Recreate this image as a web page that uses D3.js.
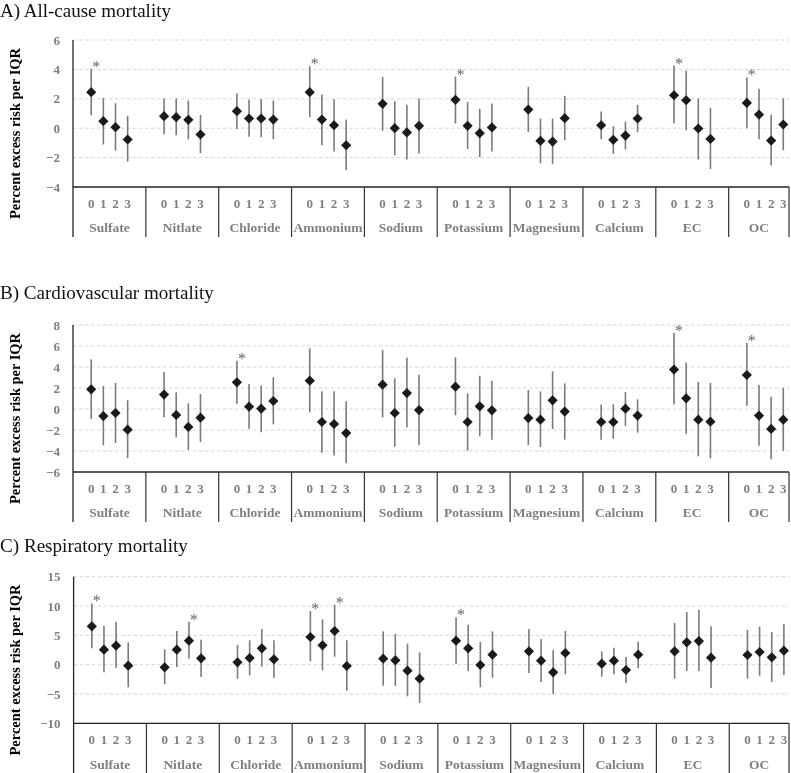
<!DOCTYPE html>
<html><head><meta charset="utf-8">
<script src="https://cdn.jsdelivr.net/npm/d3@7"></script>
<style>body{margin:0;background:#fff}svg{display:block;filter:grayscale(1)}</style>
</head><body>
<svg id="chart" width="791" height="773"></svg>
<script>
// ---------------- DATA ----------------
const components = ["Sulfate","Nitlate","Chloride","Ammonium","Sodium","Potassium","Magnesium","Calcium","EC","OC"];
const lags = ["0","1","2","3"];

// A) All-cause mortality (4 lags per component, in component order)
const allCauseEst  = [2.45,0.48,0.07,-0.77, 0.82,0.75,0.57,-0.43, 1.16,0.66,0.66,0.59, 2.45,0.59,0.20,-1.16, 1.66,0.00,-0.29,0.16, 1.93,0.16,-0.34,0.05, 1.27,-0.86,-0.91,0.68, 0.20,-0.79,-0.50,0.66, 2.24,1.90,-0.02,-0.73, 1.72,0.93,-0.84,0.25];
const allCauseLow  = [0.88,-1.11,-1.52,-2.27, -0.41,-0.48,-0.75,-1.70, -0.05,-0.59,-0.61,-0.75, 0.75,-1.16,-1.59,-2.86, -0.18,-1.84,-2.13,-1.72, 0.32,-1.41,-1.97,-1.59, -0.25,-2.38,-2.43,-0.82, -0.75,-1.75,-1.45,-0.27, 0.34,-0.14,-2.13,-2.77, 0.00,-0.75,-2.54,-1.50];
const allCauseHigh = [4.04,2.06,1.70,0.84, 2.02,2.02,1.88,0.91, 2.36,1.93,1.97,1.88, 4.22,2.29,1.97,0.59, 3.49,1.84,1.59,2.02, 3.51,1.77,1.32,1.68, 2.81,0.66,0.66,2.20, 1.13,0.14,0.45,1.59, 4.26,3.90,2.02,1.38, 3.45,2.68,0.91,2.02];
const allCauseSig  = ["Sulfate|0","Ammonium|0","Potassium|0","EC|0","OC|0"];
const allCauseTicks = [-4,-2,0,2,4,6];

// B) Cardiovascular mortality
const cardioEst  = [1.87,-0.67,-0.38,-1.97, 1.37,-0.57,-1.71,-0.83, 2.54,0.22,0.03,0.76, 2.70,-1.24,-1.43,-2.29, 2.32,-0.38,1.52,-0.10, 2.13,-1.24,0.25,-0.13, -0.86,-1.02,0.83,-0.25, -1.24,-1.24,0.03,-0.63, 3.75,1.02,-1.02,-1.21, 3.24,-0.63,-1.90,-1.02];
const cardioLow  = [-0.95,-3.46,-3.24,-4.67, -0.79,-2.70,-3.90,-3.14, 0.51,-1.87,-2.22,-1.46, -0.32,-4.16,-4.44,-5.17, -0.79,-3.59,-1.75,-3.43, -0.60,-3.97,-2.60,-2.92, -3.43,-3.62,-1.90,-2.92, -2.92,-2.83,-1.62,-2.25, 0.44,-2.35,-4.51,-4.70, 0.32,-3.49,-4.79,-3.97];
const cardioHigh = [4.73,2.19,2.48,0.83, 3.52,1.59,0.54,1.43, 4.60,2.38,2.25,3.02, 5.78,1.68,1.68,0.73, 5.62,2.92,4.89,3.27, 4.92,1.49,3.17,2.70, 1.81,1.68,3.59,2.44, 0.44,0.44,1.62,0.92, 7.27,4.44,2.57,2.48, 6.29,2.29,1.17,2.00];
const cardioSig  = ["Chloride|0","EC|0","OC|0"];
const cardioTicks = [-6,-4,-2,0,2,4,6,8];

// C) Respiratory mortality
const respEst  = [6.53,2.56,3.24,-0.17, -0.45,2.56,4.09,1.08, 0.40,1.14,2.78,0.91, 4.72,3.30,5.74,-0.23, 1.02,0.74,-1.02,-2.39, 4.09,2.78,-0.06,1.70, 2.27,0.68,-1.31,1.99, 0.17,0.68,-0.91,1.70, 2.27,3.81,4.03,1.19, 1.65,2.16,1.25,2.39];
const respLow  = [2.78,-1.31,-0.57,-3.86, -3.35,-0.40,1.02,-2.10, -2.39,-1.82,-0.34,-2.22, 0.57,-0.97,1.36,-4.43, -3.58,-3.64,-5.40,-6.53, 0.11,-1.08,-3.86,-2.22, -1.42,-2.95,-5.00,-1.65, -2.05,-1.65,-3.13,-0.63, -2.39,-1.08,-1.08,-3.98, -2.39,-1.88,-2.95,-1.76];
const respHigh = [10.45,6.59,7.33,3.81, 2.61,5.74,7.33,4.26, 3.35,4.15,6.08,4.15, 9.15,7.73,10.23,4.15, 5.68,5.23,3.58,2.10, 8.07,6.82,3.86,5.68, 6.08,4.38,2.50,5.74, 2.27,2.90,1.31,3.92, 7.10,8.98,9.38,6.53, 5.91,6.48,5.57,6.88];
const respSig  = ["Sulfate|0","Nitlate|2","Ammonium|0","Ammonium|2","Potassium|0"];
const respTicks = [-10,-5,0,5,10,15];

const yTitle = "Percent excess risk per IQR";

// ---------------- LAYOUT ----------------
const panels = [
  {title:"A) All-cause mortality",     est:allCauseEst, low:allCauseLow, high:allCauseHigh, sig:allCauseSig, ticks:allCauseTicks, top:40,    bottom:187,   x0:73,   titleY:17,  titleW:171},
  {title:"B) Cardiovascular mortality",est:cardioEst,   low:cardioLow,   high:cardioHigh,   sig:cardioSig,   ticks:cardioTicks,   top:325,   bottom:472,   x0:73,   titleY:299, titleW:214},
  {title:"C) Respiratory mortality",   est:respEst,     low:respLow,     high:respHigh,     sig:respSig,     ticks:respTicks,     top:576.7, bottom:723.3, x0:73.6, titleY:552, titleW:188}
];
const groupW = 72.85;
const rightEdge = 789;
const yTitleLen = 171;
const serif = "'Liberation Serif','Times New Roman',Times,serif";
const gray = "#7f7f7f";

const svg = d3.select("#chart");

function fitText(sel, target, base) {
  const len = sel.node().getComputedTextLength();
  if (len > 0) sel.attr("font-size", base * target / len);
}

panels.forEach(p => {
  const g = svg.append("g");
  const y = d3.scaleLinear().domain(d3.extent(p.ticks)).range([p.bottom, p.top]);
  const gx = d3.scaleBand().domain(components).range([p.x0, p.x0 + groupW*components.length]);
  const slot = d3.scaleBand().domain(["pre", ...lags, "post"]).range([0, gx.bandwidth()]);
  const xPos = (c, l) => gx(c) + slot(l) + slot.bandwidth()/2;

  // title
  const t = g.append("text").attr("x", 0).attr("y", p.titleY)
    .attr("font-family", serif).attr("font-size", 19).attr("fill", "#111")
    .text(p.title);
  fitText(t, p.titleW, 19);

  // gridlines
  g.append("g").selectAll("line").data(p.ticks.slice(1)).join("line")
    .attr("x1", p.x0).attr("x2", rightEdge)
    .attr("y1", d => y(d)).attr("y2", d => y(d))
    .attr("stroke", "#d6d6d6").attr("stroke-width", 1).attr("stroke-dasharray", "3.5,2.5");

  // y axis ticks
  const ya = g.append("g").attr("transform", `translate(${p.x0},0)`)
    .call(d3.axisLeft(y).tickValues(p.ticks).tickSize(0).tickPadding(13).tickFormat(d3.format("d")));
  ya.select(".domain").remove();
  ya.selectAll("text").attr("font-family", serif).attr("font-size", 13).attr("font-weight", "bold").attr("fill", gray);

  // y axis line (extends down through category label area)
  const axisBottom = p.bottom + 50;
  g.append("line").attr("x1", p.x0).attr("x2", p.x0).attr("y1", p.top).attr("y2", axisBottom)
    .attr("stroke", "#222").attr("stroke-width", 1.3);
  // x axis line
  g.append("line").attr("x1", p.x0).attr("x2", rightEdge).attr("y1", p.bottom).attr("y2", p.bottom)
    .attr("stroke", "#222").attr("stroke-width", 1.3);
  // group dividers
  const divs = components.slice(1).map(c => gx(c)).concat([Math.min(rightEdge, gx.range()[1])]);
  g.append("g").selectAll("line").data(divs).join("line")
    .attr("x1", d => d).attr("x2", d => d).attr("y1", p.bottom).attr("y2", axisBottom)
    .attr("stroke", "#333").attr("stroke-width", 1.2);

  // lag labels
  const cats = components.flatMap(c => lags.map(l => ({c, l})));
  g.append("g").selectAll("text").data(cats).join("text")
    .attr("x", d => xPos(d.c, d.l)).attr("y", p.bottom + 16).attr("dy", "0.35em")
    .attr("text-anchor", "middle").attr("font-family", serif).attr("font-size", 13)
    .attr("font-weight", "bold").attr("fill", gray).text(d => d.l);
  // component names
  g.append("g").selectAll("text").data(components).join("text")
    .attr("x", c => (gx(c) + Math.min(rightEdge, gx(c) + gx.bandwidth()))/2)
    .attr("y", p.bottom + 40.5).attr("dy", "0.35em")
    .attr("text-anchor", "middle").attr("font-family", serif).attr("font-size", 13.5)
    .attr("font-weight", "bold").attr("fill", gray).text(c => c);

  // y title
  const yt = g.append("text").attr("transform", `translate(19.5,${(p.top + axisBottom)/2 - 5}) rotate(-90)`)
    .attr("text-anchor", "middle").attr("font-family", serif).attr("font-size", 14.5)
    .attr("font-weight", "bold").attr("fill", "#000").text(yTitle);
  fitText(yt, yTitleLen, 14.5);

  // data points
  const pts = cats.map((d, i) => ({...d, est: p.est[i], low: p.low[i], high: p.high[i], sig: p.sig.includes(d.c + "|" + d.l)}));
  const mg = g.append("g");
  mg.selectAll("line.err").data(pts).join("line").attr("class", "err")
    .attr("x1", d => xPos(d.c, d.l)).attr("x2", d => xPos(d.c, d.l))
    .attr("y1", d => y(d.low)).attr("y2", d => y(d.high))
    .attr("stroke", "#7a7a7a").attr("stroke-width", 1.6);
  const diamond = d3.symbol().type(d3.symbolSquare).size(52);
  mg.selectAll("path.pt").data(pts).join("path").attr("class", "pt")
    .attr("d", diamond)
    .attr("transform", d => `translate(${xPos(d.c, d.l)},${y(d.est)}) rotate(45)`)
    .attr("fill", "#1a1a1a");
  mg.append("g")
    .selectAll("text.sig").data(pts.filter(d => d.sig)).join("text").attr("class", "sig")
    .attr("x", d => xPos(d.c, d.l) + 5).attr("y", d => y(d.high) + 3)
    .attr("text-anchor", "middle").attr("font-family", serif).attr("font-size", 16)
    .attr("fill", "#666").text("*");
});
</script>
</body></html>
